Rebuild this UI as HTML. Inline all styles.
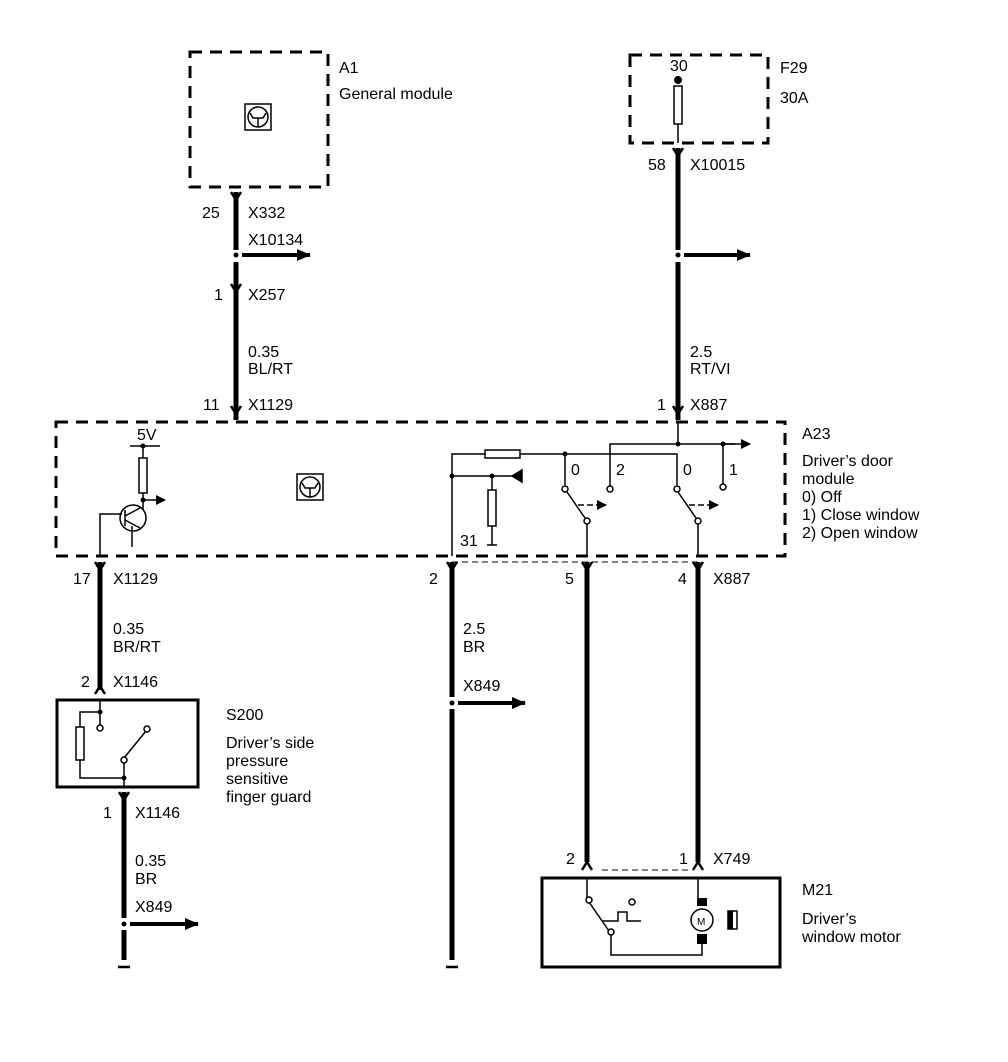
<!DOCTYPE html>
<html><head><meta charset="utf-8"><style>
html,body{margin:0;padding:0;background:#fff;}
svg{display:block;}
text{font-family:"Liberation Sans",Arial,sans-serif;font-size:16px;fill:#000;}
</style></head><body>
<svg width="1008" height="1062" viewBox="0 0 1008 1062" xmlns="http://www.w3.org/2000/svg">
<defs>
<marker id="ah" markerWidth="10" markerHeight="10" refX="9" refY="5" orient="auto" markerUnits="userSpaceOnUse"><path d="M0,0 L10,5 L0,10 z" fill="#000"/></marker>
<marker id="ahs" markerWidth="14" markerHeight="12" refX="13" refY="6" orient="auto" markerUnits="userSpaceOnUse"><path d="M0,0 L14,6 L0,12 z" fill="#000"/></marker>
</defs>
<g fill="none" stroke="#000">
<rect x="190" y="52" width="138" height="135" stroke-width="3" stroke-dasharray="12,8"/>
<rect x="630" y="55" width="138" height="88" stroke-width="3" stroke-dasharray="12,8"/>
<rect x="56" y="422" width="729" height="134" stroke-width="3" stroke-dasharray="12,8"/>
<rect x="57" y="700" width="141" height="87" stroke-width="3"/>
<rect x="542" y="878" width="238" height="89" stroke-width="3"/>
<rect x="245" y="104" width="26" height="26" stroke-width="1.5"/>
<circle cx="258" cy="117" r="10" stroke-width="1.5"/>
<path d="M250,113 L253,118 L263,118 L266,113 M258,118 V127" stroke-width="1.5"/>
<rect x="297" y="474" width="26" height="26" stroke-width="1.5"/>
<circle cx="310" cy="487" r="10" stroke-width="1.5"/>
<path d="M302,483 L305,488 L315,488 L318,483 M310,488 V497" stroke-width="1.5"/>
<rect x="674" y="86" width="8" height="38" stroke-width="1.5"/>
<line x1="678" y1="124" x2="678" y2="143" stroke-width="1.5"/>
<path d="M236,192 V250 M236,262 V420" stroke-width="5"/>
<path d="M678,148 V250 M678,262 V420" stroke-width="5"/>
<path d="M100,562 V690" stroke-width="5"/>
<path d="M124,792 V918 M124,930 V960" stroke-width="5"/>
<path d="M452,562 V697 M452,709 V960" stroke-width="5"/>
<path d="M587,562 V862" stroke-width="5"/>
<path d="M698,562 V862" stroke-width="5"/>
<g stroke-width="2.5">
<path d="M231,192 L236,200 L241,192"/>
<path d="M231,284 L236,292 L241,284"/>
<path d="M231,406 L236,414 L241,406"/>
<path d="M673,148 L678,156 L683,148"/>
<path d="M673,406 L678,414 L683,406"/>
<path d="M95,562 L100,570 L105,562"/>
<path d="M447,562 L452,570 L457,562"/>
<path d="M582,562 L587,570 L592,562"/>
<path d="M693,562 L698,570 L703,562"/>
<path d="M95,694 L100,686 L105,694"/>
<path d="M119,792 L124,800 L129,792"/>
<path d="M582,870 L587,862 L592,870"/>
<path d="M693,870 L698,862 L703,870"/>
</g>
<g stroke-width="4">
<line x1="242" y1="255" x2="310" y2="255" marker-end="url(#ahs)"/>
<line x1="684" y1="255" x2="750" y2="255" marker-end="url(#ahs)"/>
<line x1="130" y1="924" x2="198" y2="924" marker-end="url(#ahs)"/>
<line x1="458" y1="703" x2="525" y2="703" marker-end="url(#ahs)"/>
</g>
<path d="M118,967 H130 M446,967 H458" stroke-width="2.5"/>
<g stroke-width="1.5">
<line x1="130" y1="446" x2="160" y2="446"/>
<line x1="143" y1="446" x2="143" y2="458"/>
<rect x="139" y="458" width="8" height="35"/>
<line x1="143" y1="493" x2="143" y2="510"/>
<line x1="143" y1="500" x2="165" y2="500" marker-end="url(#ah)"/>
<circle cx="133" cy="518" r="13"/>
<path d="M100,556 V514 H122 M125,510 V526 M125,516 L140,508 M125,520 L140,528 M132,526 V547"/>
</g>
<g stroke-width="1.5">
<path d="M678,422 V444 M610,488 V444 H735"/>
<line x1="723" y1="444" x2="750" y2="444" marker-end="url(#ah)"/>
<path d="M723,444 V484"/>
<path d="M452,556 V454 H485 M520,454 H677 V485 M565,454 V485"/>
<rect x="485" y="450" width="35" height="8"/>
<line x1="452" y1="476" x2="520" y2="476"/>
<path d="M512,476 L522,470 L522,482 z" fill="#000"/>
<path d="M492,476 V490 M492,526 V545 M487,545 H497"/>
<rect x="488" y="490" width="8" height="36"/>
<path d="M567,492 L585,518 M587,524 V556 M678,492 L696,518 M698,524 V556"/>
<line x1="578" y1="505" x2="606" y2="505" stroke-dasharray="6,3" marker-end="url(#ah)"/>
<line x1="689" y1="505" x2="718" y2="505" stroke-dasharray="6,3" marker-end="url(#ah)"/>
<circle cx="565" cy="489" r="3" fill="#fff"/>
<circle cx="610" cy="489" r="3" fill="#fff"/>
<circle cx="677" cy="489" r="3" fill="#fff"/>
<circle cx="723" cy="487" r="3" fill="#fff"/>
<circle cx="587" cy="521" r="3" fill="#fff"/>
<circle cx="698" cy="521" r="3" fill="#fff"/>
<path d="M452,562 H698" stroke-dasharray="6,4" stroke-width="1"/>
</g>
<g stroke-width="1.5">
<path d="M100,700 V710 M100,712 H80 V727 M80,760 V778 H124 V787 M124,778 V760"/>
<rect x="76" y="727" width="8" height="33"/>
<line x1="100" y1="712" x2="100" y2="726"/>
<line x1="124" y1="758" x2="146" y2="731"/>
<circle cx="100" cy="728" r="3" fill="#fff"/>
<circle cx="124" cy="760" r="3" fill="#fff"/>
<circle cx="147" cy="729" r="3" fill="#fff"/>
</g>
<g stroke-width="1.5">
<path d="M587,878 V898 M589,902 L609,931 M611,934 V955 H702 V944 M698,878 V898"/>
<path d="M602,921 H618 V912 H627 V921 H641"/>
<circle cx="589" cy="900" r="3" fill="#fff"/>
<circle cx="611" cy="932" r="3" fill="#fff"/>
<circle cx="632" cy="902" r="3" fill="#fff"/>
<circle cx="702" cy="920" r="11"/>
<path d="M728,911 h9 v18 h-9 z"/>
<line x1="602" y1="870" x2="690" y2="870" stroke-dasharray="6,4" stroke-width="1"/>
</g>
<rect x="697" y="898" width="10" height="8" fill="#000" stroke="none"/>
<rect x="697" y="934" width="10" height="10" fill="#000" stroke="none"/>
<rect x="728" y="911" width="5" height="18" fill="#000" stroke="none"/>
</g>
<g fill="#000">
<circle cx="678" cy="80" r="4"/>
<circle cx="236" cy="255" r="2.5"/><circle cx="678" cy="255" r="2.5"/>
<circle cx="124" cy="924" r="2.5"/><circle cx="452" cy="703" r="2.5"/>
<circle cx="143" cy="446" r="2.5"/><circle cx="143" cy="500" r="2.5"/>
<circle cx="678" cy="444" r="2.5"/><circle cx="723" cy="444" r="2.5"/>
<circle cx="565" cy="454" r="2.5"/><circle cx="452" cy="476" r="2.5"/><circle cx="492" cy="476" r="2.5"/>
<circle cx="100" cy="712" r="2.5"/><circle cx="124" cy="778" r="2.5"/>
</g>
<text x="339" y="73">A1</text>
<text x="339" y="99">General module</text>
<text x="670" y="71">30</text>
<text x="780" y="73">F29</text>
<text x="780" y="103">30A</text>
<text x="202" y="218">25</text><text x="248" y="218">X332</text>
<text x="248" y="245">X10134</text>
<text x="214" y="300">1</text><text x="248" y="300">X257</text>
<text x="248" y="357">0.35</text><text x="248" y="374">BL/RT</text>
<text x="203" y="410">11</text><text x="248" y="410">X1129</text>
<text x="648" y="170">58</text><text x="690" y="170">X10015</text>
<text x="690" y="357">2.5</text><text x="690" y="374">RT/VI</text>
<text x="657" y="410">1</text><text x="690" y="410">X887</text>
<text x="137" y="440">5V</text>
<text x="802" y="439">A23</text>
<text x="802" y="466">Driver’s door</text>
<text x="802" y="484">module</text>
<text x="802" y="502">0) Off</text>
<text x="802" y="520">1) Close window</text>
<text x="802" y="538">2) Open  window</text>
<text x="571" y="475">0</text><text x="616" y="475">2</text>
<text x="683" y="475">0</text><text x="729" y="475">1</text>
<text x="460" y="546">31</text>
<text x="73" y="584">17</text><text x="113" y="584">X1129</text>
<text x="113" y="634">0.35</text><text x="113" y="652">BR/RT</text>
<text x="81" y="687">2</text><text x="113" y="687">X1146</text>
<text x="226" y="720">S200</text>
<text x="226" y="748">Driver’s side</text>
<text x="226" y="766">pressure</text>
<text x="226" y="784">sensitive</text>
<text x="226" y="802">finger guard</text>
<text x="103" y="818">1</text><text x="135" y="818">X1146</text>
<text x="135" y="866">0.35</text><text x="135" y="884">BR</text>
<text x="135" y="912">X849</text>
<text x="429" y="584">2</text>
<text x="463" y="634">2.5</text><text x="463" y="652">BR</text>
<text x="463" y="691">X849</text>
<text x="565" y="584">5</text>
<text x="678" y="584">4</text><text x="713" y="584">X887</text>
<text x="566" y="864">2</text>
<text x="679" y="864">1</text><text x="713" y="864">X749</text>
<text x="697" y="925" style="font-size:10px">M</text>
<text x="802" y="895">M21</text>
<text x="802" y="924">Driver’s</text>
<text x="802" y="942">window motor</text>
</svg>
</body></html>
